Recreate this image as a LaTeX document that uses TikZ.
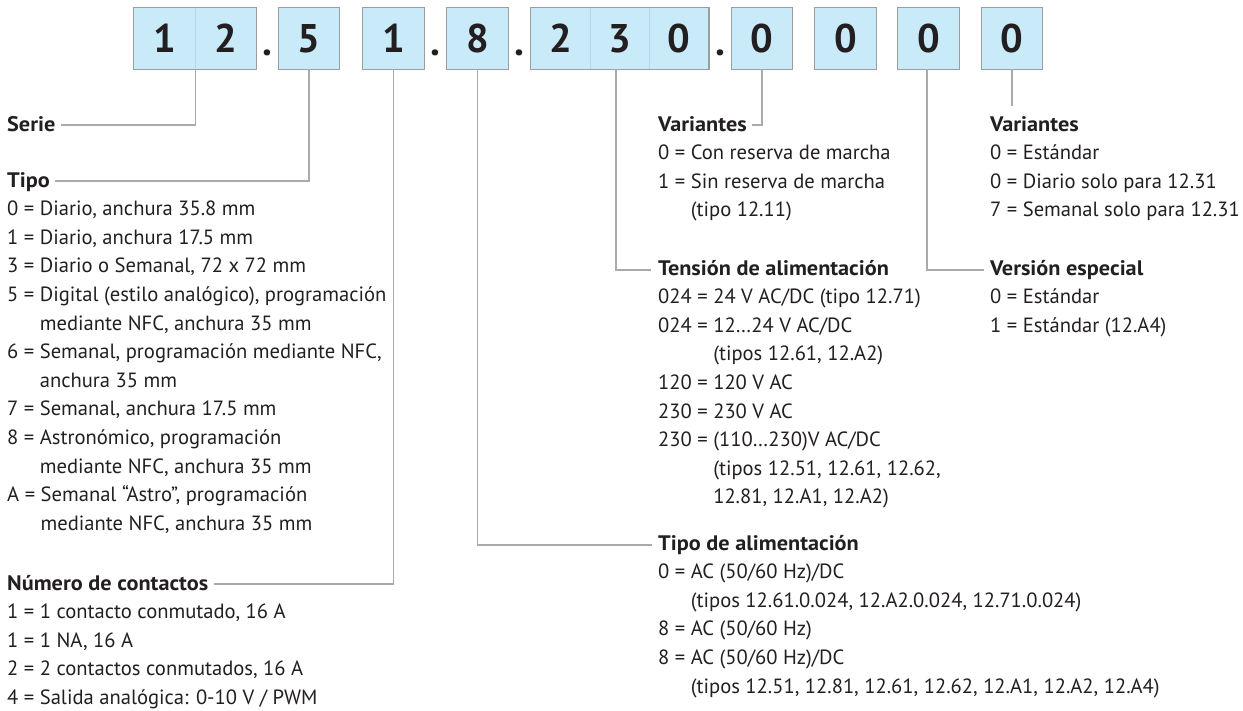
\documentclass[tikz,border=0pt]{standalone}
\usepackage{fontspec}
\setmainfont{PT Sans}[BoldFeatures={FakeStretch=1.06}]
\newfontfamily\digitfont{PT Sans Bold}
\definecolor{boxblue}{RGB}{200,234,249}
\definecolor{boxline}{RGB}{155,158,160}
\definecolor{seam}{RGB}{185,215,230}
\definecolor{leadgray}{RGB}{170,170,170}
\definecolor{ink}{RGB}{35,31,32}
\newcommand\itemlines[1]{\vtop{\baselineskip=28.6pt\lineskiplimit=-30pt\lineskip=0pt #1}}
\newcommand\myl[1]{\hbox{#1}}
\begin{document}
\begin{tikzpicture}[x=1pt,y=-1pt,
  every node/.style={text=ink},
  cell/.style={fill=boxblue, inner sep=0pt, minimum width=61pt, minimum height=61pt,
    font=\fontsize{40}{40}\digitfont},
  dotsep/.style={anchor=base, inner sep=0pt, font=\fontsize{40}{40}\digitfont},
  head/.style={anchor=base west, inner sep=0pt, font=\fontsize{21}{28.6}\selectfont\bfseries},
  items/.style={anchor=base west, inner sep=0pt, font=\fontsize{20.6}{28.6}\selectfont},
  frame/.style={draw=boxline, line width=1.3pt},
  leader/.style={draw=leadgray, line width=1.3pt},
  seamline/.style={draw=seam, line width=0.8pt}]
\useasboundingbox (0,0) rectangle (1243,710);
% cells
\node[cell] (c1)  at (164.5,38.5) {\raisebox{-2.5pt}{1}};
\node[cell] (c2)  at (225.5,38.5) {\raisebox{-2.5pt}{2}};
\node[cell] (c5)  at (309,38.5) {\raisebox{-2.5pt}{5}};
\node[cell] (c1b) at (393.5,38.5) {\raisebox{-2.5pt}{1}};
\node[cell] (c8)  at (477.5,38.5) {\raisebox{-2.5pt}{8}};
\node[cell,minimum width=59.3pt] (c2b) at (560.65,38.5) {\raisebox{-2.5pt}{2}};
\node[cell,minimum width=59.3pt] (c3)  at (619.95,38.5) {\raisebox{-2.5pt}{3}};
\node[cell,minimum width=59.3pt] (c0a) at (679.25,38.5) {\raisebox{-2.5pt}{0}};
\node[cell] (c0b) at (762,38.5) {\raisebox{-2.5pt}{0}};
\node[cell] (c0c) at (845.5,38.5) {\raisebox{-2.5pt}{0}};
\node[cell] (c0d) at (928.5,38.5) {\raisebox{-2.5pt}{0}};
\node[cell] (c0e) at (1012,38.5) {\raisebox{-2.5pt}{0}};
% seams
\draw[seamline] (c1.north east) -- (c1.south east);
\draw[seamline] (c2b.north east) -- (c2b.south east);
\draw[seamline] (c3.north east) -- (c3.south east);
% frames
\draw[frame] (c1.north west) rectangle (c2.south east);
\draw[frame] (c5.north west) rectangle (c5.south east);
\draw[frame] (c1b.north west) rectangle (c1b.south east);
\draw[frame] (c8.north west) rectangle (c8.south east);
\draw[frame] (c2b.north west) rectangle (c0a.south east);
\draw[frame] (c0b.north west) rectangle (c0b.south east);
\draw[frame] (c0c.north west) rectangle (c0c.south east);
\draw[frame] (c0d.north west) rectangle (c0d.south east);
\draw[frame] (c0e.north west) rectangle (c0e.south east);
% dots
\node[dotsep] (d1) at (267,55) {.};
\node[dotsep] (d2) at (435.5,55) {.};
\node[dotsep] (d3) at (519.5,55) {.};
\node[dotsep] (d4) at (720,55) {.};
% left column
\node[head] (serie) at (7,131) {Serie};
\node[head] (tipo) at (7,187) {Tipo};
\node[items] (tipoit) at ([yshift=-28.6pt]tipo.base west) {\itemlines{%
\myl{0 = Diario, anchura 35.8 mm}
\myl{1 = Diario, anchura 17.5 mm}
\myl{3 = Diario o Semanal, 72 x 72 mm}
\myl{5 = Digital (estilo analógico), programación}
\myl{\hphantom{5 = }mediante NFC, anchura 35 mm}
\myl{6 = Semanal, programación mediante NFC,}
\myl{\hphantom{6 = }anchura 35 mm}
\myl{7 = Semanal, anchura 17.5 mm}
\myl{8 = Astronómico, programación}
\myl{\hphantom{8 = }mediante NFC, anchura 35 mm}
\myl{A = Semanal “Astro”, programación}
\myl{\hphantom{A = }mediante NFC, anchura 35 mm}}};
\node[head] (num) at (7,590) {Número de contactos};
\node[items] (numit) at ([yshift=-28.6pt]num.base west) {\itemlines{%
\myl{1 = 1 contacto conmutado, 16 A}
\myl{1 = 1 NA, 16 A}
\myl{2 = 2 contactos conmutados, 16 A}
\myl{4 = Salida analógica: 0-10 V / PWM}}};
% middle column
\node[head] (varm) at (658,131) {Variantes};
\node[items] (varmit) at ([yshift=-28.6pt]varm.base west) {\itemlines{%
\myl{0 = Con reserva de marcha}
\myl{1 = Sin reserva de marcha}
\myl{\hphantom{1 = }(tipo 12.11)}}};
\node[head] (tens) at (658,275) {Tensión de alimentación};
\node[items] (tensit) at ([yshift=-28.6pt]tens.base west) {\itemlines{%
\myl{024 = 24 V AC/DC (tipo 12.71)}
\myl{024 = 12…24 V AC/DC}
\myl{\hphantom{024 = }(tipos 12.61, 12.A2)}
\myl{120 = 120 V AC}
\myl{230 = 230 V AC}
\myl{230 = (110…230)V AC/DC}
\myl{\hphantom{230 = }(tipos 12.51, 12.61, 12.62,}
\myl{\hphantom{230 = }12.81, 12.A1, 12.A2)}}};
\node[head] (talim) at (658,550) {Tipo de alimentación};
\node[items] (talimit) at ([yshift=-28.6pt]talim.base west) {\itemlines{%
\myl{0 = AC (50/60 Hz)/DC}
\myl{\hphantom{0 = }(tipos 12.61.0.024, 12.A2.0.024, 12.71.0.024)}
\myl{8 = AC (50/60 Hz)}
\myl{8 = AC (50/60 Hz)/DC}
\myl{\hphantom{8 = }(tipos 12.51, 12.81, 12.61, 12.62, 12.A1, 12.A2, 12.A4)}}};
% right column
\node[head] (varr) at (990,131) {Variantes};
\node[items] (varrit) at ([yshift=-28.6pt]varr.base west) {\itemlines{%
\myl{0 = Estándar}
\myl{0 = Diario solo para 12.31}
\myl{7 = Semanal solo para 12.31}}};
\node[head] (vers) at (990,275) {Versión especial};
\node[items] (versit) at ([yshift=-28.6pt]vers.base west) {\itemlines{%
\myl{0 = Estándar}
\myl{1 = Estándar (12.A4)}}};
% leaders
\draw[leader] (c1.south east) |- ([xshift=5pt,yshift=6pt]serie.base east);
\draw[leader] (c5.south) |- ([xshift=5pt,yshift=6pt]tipo.base east);
\draw[leader] (c1b.south) |- ([xshift=6pt,yshift=6pt]num.base east);
\draw[leader] (c8.south) |- ([xshift=-6pt,yshift=5pt]talim.base west);
\draw[leader] ([xshift=-4pt]c3.south) |- ([xshift=-7pt,yshift=5pt]tens.base west);
\draw[leader] (c0b.south) |- ([xshift=5pt,yshift=6pt]varm.base east);
\draw[leader] ([xshift=-1.5pt]c0d.south) |- ([xshift=-6pt,yshift=5pt]vers.base west);
\draw[leader,shorten >=10pt] (c0e.south) -- (c0e.south |- varr.north);
\end{tikzpicture}
\end{document}
